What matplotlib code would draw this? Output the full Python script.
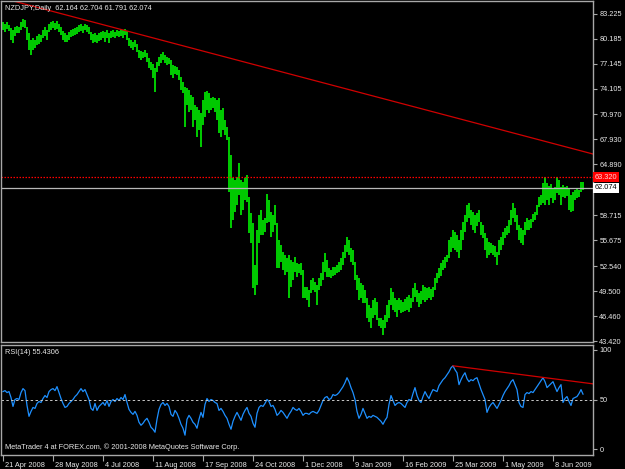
import matplotlib.pyplot as plt
import matplotlib.transforms as mtransforms

# bar highs / lows (daily NZDJPY, 21 Apr 2008 .. late Jun 2009)
highs = [
    82.22, 81.97, 82.22, 81.85, 81.49, 81.24, 81.61, 81.73, 81.61, 82.22,
    82.58, 82.46, 81.61, 80.88, 80.03, 80.27, 80.03, 80.51, 80.76, 80.63,
    81.24, 81.61, 81.24, 81.97, 82.22, 82.34, 82.09, 82.34, 81.97, 81.61,
    81.12, 80.88, 80.63, 81.00, 81.24, 81.36, 81.49, 81.61, 81.85, 81.97,
    81.73, 81.97, 81.85, 81.61, 81.00, 80.76, 80.88, 80.63, 80.88, 81.00,
    81.12, 81.00, 81.24, 80.88, 81.12, 81.24, 81.00, 81.24, 81.12, 81.36,
    81.24, 81.36, 81.12, 80.27, 80.03, 79.78, 80.03, 79.54, 78.81, 78.69,
    78.57, 78.81, 78.45, 77.84, 77.35, 77.10, 76.62, 77.35, 77.96, 78.32,
    78.57, 78.20, 77.96, 77.84, 77.59, 76.98, 76.86, 76.74, 76.38, 75.52,
    74.92, 74.31, 74.19, 73.95, 73.34, 73.09, 72.12, 71.88, 71.51, 71.15,
    72.73, 73.70, 73.82, 73.58, 72.97, 73.09, 72.97, 72.73, 72.97, 71.51,
    71.76, 70.30, 69.45, 68.23, 66.04, 63.24, 63.00, 63.37, 65.07, 63.00,
    62.76, 63.24, 63.61, 60.94, 58.99, 57.77, 52.67, 56.92, 58.75, 59.35,
    58.14, 58.38, 61.30, 60.57, 59.11, 58.75, 59.96, 57.77, 55.71, 55.10,
    54.25, 53.88, 53.52, 53.88, 53.27, 53.03, 53.64, 52.91, 52.79, 52.91,
    52.06, 49.99, 49.99, 49.63, 50.84, 51.08, 50.60, 50.23, 51.08, 51.69,
    53.03, 54.13, 53.27, 52.30, 52.06, 52.42, 52.42, 52.67, 53.03, 53.52,
    54.25, 55.10, 56.07, 55.71, 54.73, 54.49, 53.03, 51.45, 51.08, 50.47,
    50.23, 49.63, 48.65, 47.80, 47.44, 48.41, 48.65, 48.17, 46.22, 46.22,
    45.98, 46.58, 47.80, 48.41, 49.87, 49.38, 48.65, 48.41, 48.65, 48.41,
    48.17, 48.53, 48.78, 49.02, 48.65, 49.87, 50.47, 49.63, 49.26, 49.50,
    50.23, 49.99, 49.87, 49.99, 49.75, 49.99, 51.08, 51.69, 52.30, 52.91,
    53.27, 53.64, 53.88, 55.71, 56.07, 56.92, 56.68, 56.31, 55.71, 56.92,
    57.89, 58.75, 59.96, 60.21, 59.35, 59.11, 58.75, 58.99, 59.35, 57.89,
    57.53, 56.56, 55.95, 55.46, 55.34, 55.10, 54.98, 54.25, 55.71, 56.07,
    56.68, 57.16, 57.41, 58.14, 59.35, 60.21, 59.60, 58.75, 57.53, 57.16,
    56.92, 57.89, 58.38, 58.14, 58.26, 58.87, 59.11, 59.96, 60.94, 61.18,
    62.64, 63.32, 62.64, 62.27, 62.52, 62.03, 62.15, 63.32, 63.00, 62.15,
    62.39, 62.15, 62.27, 62.03, 61.18, 61.54, 61.79, 62.03, 61.79, 62.76,
    62.704,
]
lows = [
    81.24, 81.00, 81.36, 81.12, 80.03, 79.66, 80.51, 80.88, 80.88, 81.24,
    81.61, 81.49, 80.03, 78.81, 78.20, 78.81, 79.05, 79.42, 79.54, 79.78,
    80.27, 80.51, 80.03, 81.00, 81.24, 81.49, 81.24, 81.36, 81.00, 80.63,
    80.03, 79.78, 79.78, 80.03, 80.39, 80.51, 80.63, 80.76, 81.00, 81.12,
    80.88, 81.24, 81.00, 80.76, 80.03, 79.66, 79.78, 79.66, 79.90, 80.03,
    80.27, 79.78, 80.27, 79.66, 80.27, 80.39, 80.27, 80.51, 80.39, 80.51,
    80.27, 80.63, 80.03, 79.30, 79.05, 78.81, 79.17, 78.57, 77.84, 77.59,
    77.84, 77.96, 77.35, 76.62, 76.38, 75.40, 73.70, 76.13, 76.86, 77.23,
    77.59, 77.23, 76.98, 77.10, 75.77, 75.40, 75.89, 75.77, 75.16, 73.95,
    73.58, 69.45, 72.12, 71.27, 71.51, 69.45, 70.30, 68.23, 69.08, 67.02,
    69.69, 70.66, 71.51, 71.15, 71.51, 71.76, 71.27, 70.30, 68.72, 68.23,
    69.08, 68.47, 67.87, 61.54, 57.16, 58.14, 59.11, 59.96, 61.18, 58.75,
    59.35, 60.57, 60.33, 56.56, 55.34, 49.87, 49.02, 50.23, 55.34, 56.31,
    56.31, 56.68, 57.77, 57.89, 56.07, 56.68, 57.53, 52.30, 52.30, 53.03,
    52.06, 51.45, 51.81, 48.65, 49.99, 50.84, 51.81, 51.20, 51.69, 51.45,
    48.65, 48.65, 48.41, 47.56, 49.26, 49.63, 49.38, 47.80, 49.63, 50.11,
    50.84, 51.81, 51.20, 51.20, 51.08, 51.33, 51.45, 51.69, 51.81, 52.06,
    52.67, 53.52, 54.25, 53.88, 53.03, 52.67, 50.84, 49.63, 48.41, 48.65,
    48.05, 48.05, 46.22, 45.73, 45.00, 46.22, 46.58, 45.98, 45.25, 45.00,
    44.15, 45.00, 45.73, 46.22, 47.80, 47.19, 46.95, 46.34, 47.19, 46.83,
    46.95, 47.07, 47.19, 46.95, 47.44, 48.17, 48.78, 48.17, 47.56, 47.92,
    48.41, 48.17, 48.41, 48.65, 48.41, 48.78, 49.63, 50.47, 51.08, 51.33,
    52.06, 52.30, 53.03, 53.52, 54.25, 54.73, 54.49, 54.25, 53.52, 54.49,
    55.71, 56.68, 57.89, 58.38, 57.53, 56.92, 56.56, 57.41, 57.89, 56.31,
    55.95, 54.49, 53.52, 53.88, 54.13, 53.88, 53.64, 52.67, 53.88, 54.49,
    55.10, 55.95, 56.31, 56.56, 57.53, 58.38, 57.89, 56.92, 55.71, 55.34,
    55.10, 56.31, 56.92, 56.92, 57.16, 57.89, 58.14, 58.75, 59.72, 59.96,
    60.21, 59.96, 60.57, 59.96, 60.81, 60.21, 60.57, 61.42, 61.18, 59.96,
    60.94, 60.81, 61.06, 59.35, 59.11, 59.23, 60.57, 60.81, 60.94, 61.54,
    61.791,
]

# RSI(14)
rsi = [
    58, 59, 57, 58, 52, 43, 50, 51, 50, 57, 61, 59, 44, 33, 38, 42, 41, 46, 48, 47,
    51, 54, 52, 58, 60, 61, 59, 63, 57, 51, 46, 42, 43, 46, 48, 50, 53, 55, 58, 61,
    58, 60, 55, 50, 41, 39, 46, 39, 43, 45, 47, 44, 49, 43, 48, 50, 48, 51, 49, 52,
    50, 55, 47, 40, 37, 35, 38, 34, 27, 24, 26, 29, 31, 27, 22, 20, 17, 30, 40, 45,
    47, 44, 46, 43, 35, 33, 39, 36, 31, 25, 21, 14, 30, 34, 31, 27, 25, 21, 30, 37,
    32, 45, 51, 48, 50, 49, 47, 46, 39, 41, 38, 34, 31, 25, 20, 28, 33, 37, 33, 29,
    35, 39, 42, 36, 33, 26, 22, 36, 42, 44, 43, 46, 50, 48, 43, 44, 40, 34, 36, 39,
    37, 34, 31, 35, 38, 42, 40, 39, 41, 38, 34, 36, 36, 35, 37, 38, 37, 36, 39, 44,
    49, 52, 53, 50, 51, 55, 54, 55, 57, 60, 63, 67, 72, 68, 62, 57, 50, 38, 31, 35,
    41, 36, 31, 33, 32, 34, 33, 32, 30, 28, 25, 29, 32, 45, 54, 49, 44, 46, 47, 46,
    44, 42, 47, 50, 49, 56, 62, 54, 49, 47, 53, 58, 54, 51, 56, 60, 59, 58, 64, 67,
    70, 72, 75, 78, 82, 84, 80, 77, 65, 70, 74, 77, 71, 68, 70, 69, 71, 72, 66, 60,
    55, 50, 37, 42, 45, 47, 44, 41, 45, 49, 54, 58, 61, 64, 68, 70, 65, 60, 47, 43,
    42, 55, 57, 56, 58, 57, 60, 63, 66, 69, 72, 68, 62, 64, 66, 68, 63, 58, 62, 65,
    47, 51, 53, 48, 44, 51, 52, 53, 56, 60, 55.4306,
]

date_labels = ['21 Apr 2008', '28 May 2008', '4 Jul 2008', '11 Aug 2008', '17 Sep 2008',
               '24 Oct 2008', '1 Dec 2008', '9 Jan 2009', '16 Feb 2009', '25 Mar 2009',
               '1 May 2009', '8 Jun 2009']
date_bars = [0, 25, 50, 75, 100, 125, 150, 175, 200, 225, 250, 275]

price_ticks = [83.225, 80.185, 77.145, 74.105, 70.970, 67.930, 64.890,
               58.715, 55.675, 52.540, 49.500, 46.460, 43.420]
rsi_ticks = [0, 50, 100]

last_ohlc = '62.164 62.704 61.791 62.074'
bid = 62.074
ask_line = 63.320
trend_price = [(7, 84.65), (295, 66.16)]   # red trendline anchors (bar, price)
trend_rsi = [(225, 84.0), (270, 72.3)]     # red trendline on RSI (bar, value)

plt.rcParams['font.family'] = ['Liberation Sans', 'DejaVu Sans']
fs = 5.3
frame = '#a8a8a8'
txt = '#e8e8e8'

fig = plt.figure(figsize=(6.25, 4.69), dpi=100, facecolor='black')
ax = fig.add_axes([1 / 625, 1 - 342 / 469, 592 / 625, 341 / 469], facecolor='black')
ax2 = fig.add_axes([1 / 625, 1 - 455 / 469, 592 / 625, 110 / 469], facecolor='black')

idx = list(range(len(highs)))

# --- price panel ---
ax.vlines(idx, lows, highs, color='#00c800', linewidth=1.1, antialiased=False)
ax.axhline(bid, color='#b8b8b8', linewidth=0.9)
ax.axhline(ask_line, color='#ff0000', linewidth=0.9, linestyle=(0, (1.2, 1.2)))
(x0, y0), (x1, y1) = trend_price
k = (y1 - y0) / (x1 - x0)
ax.plot([-1, 295], [y0 + k * (-1 - x0), y0 + k * (295 - x0)], color='#d00000', linewidth=0.9)

ax.set_xlim(-1, 295)
ax.set_ylim(43.30, 84.77)
ax.set_xticks([])
ax.yaxis.tick_right()
ax.set_yticks(price_ticks, [f'{v:.3f}' for v in price_ticks])
ax.tick_params(axis='y', colors=frame, labelcolor=txt, labelsize=fs, length=3, width=0.8, pad=1.5)

tr = mtransforms.blended_transform_factory(ax.transAxes, ax.transData)
ax.text(1.003, ask_line, f'{ask_line:.3f}', transform=tr, fontsize=fs, color='#ffd8d8',
        ha='left', va='center', clip_on=False,
        bbox=dict(boxstyle='square,pad=0.2', fc='#ff0000', ec='none'))
ax.text(1.003, bid, f'{bid:.3f}', transform=tr, fontsize=fs, color='black',
        ha='left', va='center', clip_on=False,
        bbox=dict(boxstyle='square,pad=0.2', fc='white', ec='none'))

ax.text(0.007, 0.988, 'NZDJPY,Daily  ' + last_ohlc, transform=ax.transAxes,
        fontsize=fs, color=txt, ha='left', va='top')

# --- RSI panel ---
ax2.plot(idx, rsi, color='#1e90ff', linewidth=0.9)
ax2.axhline(50, color='#c8c8c8', linewidth=0.7, linestyle=(0, (2.5, 2.5)))
(a0, b0), (a1, b1) = trend_rsi
m = (b1 - b0) / (a1 - a0)
ax2.plot([a0, 295], [b0, b0 + m * (295 - a0)], color='#d00000', linewidth=0.9)

ax2.set_xlim(-1, 295)
ax2.set_ylim(-6, 105)
ax2.yaxis.tick_right()
ax2.set_yticks(rsi_ticks, [str(v) for v in rsi_ticks])
ax2.tick_params(axis='y', colors=frame, labelcolor=txt, labelsize=fs, length=3, width=0.8, pad=1.5)
ax2.set_xticks(date_bars, date_labels)
ax2.tick_params(axis='x', colors=frame, labelcolor=txt, labelsize=fs, length=4, width=0.8, pad=1)
shift = mtransforms.ScaledTranslation(2 / 100, 0, fig.dpi_scale_trans)
for lab in ax2.get_xticklabels():
    lab.set_horizontalalignment('left')
    lab.set_transform(lab.get_transform() + shift)

ax2.text(0.007, 0.93, 'RSI(14) 55.4306', transform=ax2.transAxes,
         fontsize=fs, color=txt, ha='left', va='center')
ax2.text(0.007, 0.04, 'MetaTrader 4 at FOREX.com, \u00a9 2001-2008 MetaQuotes Software Corp.',
         transform=ax2.transAxes, fontsize=fs, color=txt, ha='left', va='bottom')

for a in (ax, ax2):
    for s in a.spines.values():
        s.set_color(frame)
        s.set_linewidth(1.0)

fig.savefig('out.png', dpi=100, facecolor='black')
